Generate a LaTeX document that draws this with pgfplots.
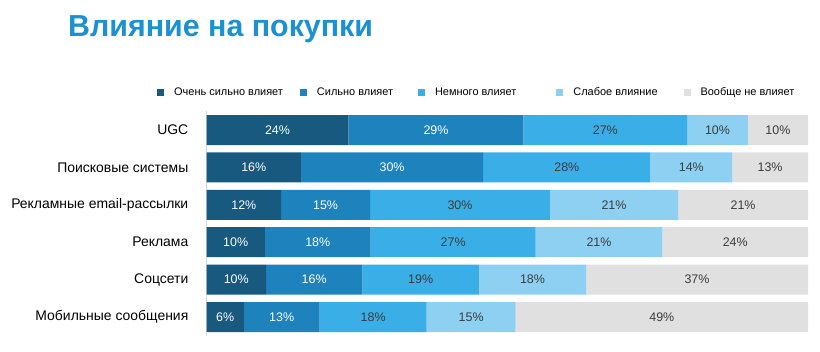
\documentclass[border=0pt]{standalone}
\usepackage{fontspec}
\setmainfont{Liberation Sans}
\usepackage{pgfplots}
\pgfplotsset{compat=1.18}
\usepackage{pgfplotstable}
\definecolor{cA}{RGB}{23,89,127}
\definecolor{cB}{RGB}{30,130,189}
\definecolor{cC}{RGB}{58,174,230}
\definecolor{cD}{RGB}{141,208,242}
\definecolor{cE}{RGB}{224,224,224}
\definecolor{titleblue}{RGB}{28,145,210}
\definecolor{lbldark}{RGB}{60,60,60}
\pgfplotstableread{
idx a b c d e la lb lc ld le
0 23.6 29.1 27.2 10.1 10.0 24 29 27 10 10
1 15.7 30.3 27.8 13.6 12.6 16 30 28 14 13
2 12.4 14.8 29.9 21.3 21.6 12 15 30 21 21
3 9.7 17.6 27.4 21.1 24.2 10 18 27 21 24
4 9.9 16.0 19.4 17.8 36.9 10 16 19 18 37
5 6.2 12.6 17.8 14.8 48.6 6 13 18 15 49
}\data
\begin{document}
\begin{tikzpicture}
\useasboundingbox (0,0) rectangle (820bp,352bp);
\node[anchor=base west, inner sep=0pt, text=titleblue, font=\fontsize{30.5}{34}\selectfont\bfseries] at (68bp,315bp) {Влияние на покупки};
\begin{axis}[
  at={(206.5bp,16.3bp)}, anchor=south west,
  scale only axis, width=601.5bp, height=224.4bp,
  xbar stacked, bar width=30bp,
  xmin=0, xmax=100, ymin=-0.5, ymax=5.5, y dir=reverse,
  axis x line=none, axis y line*=left,
  y axis line style={draw=black!15, line width=1pt},
  ytick={0,1,2,3,4,5},
  yticklabels={UGC, Поисковые системы, Рекламные email-рассылки, Реклама, Соцсети, Мобильные сообщения},
  major tick length=0pt,
  yticklabel style={font=\fontsize{14}{16}\selectfont, anchor=east, inner sep=0pt, xshift=-18bp},
  /pgf/number format/assume math mode=true,
  point meta=explicit,
  nodes near coords={\pgfmathprintnumber{\pgfplotspointmeta}\%},
  every node near coord/.append style={anchor=center, font=\fontsize{12.5}{14}\selectfont},
  legend columns=5,
  legend style={at={(-0.0823,1.086)}, anchor=west, draw=none, fill=none, inner sep=0pt,
    font=\fontsize{11}{13}\selectfont, /tikz/every odd column/.append style={column sep=8bp}},
  legend image code/.code={\fill[#1] (0bp,-3.5bp) rectangle (7bp,3.5bp);},
]
\addplot[fill=cA, draw=none, nodes near coords style={text=white}] table[x=a, y=idx, meta=la] {\data};
\addlegendentry{Очень сильно влияет\hspace*{15bp}}
\addplot[fill=cB, draw=none, nodes near coords style={text=white}] table[x=b, y=idx, meta=lb] {\data};
\addlegendentry{Сильно влияет\hspace*{23bp}}
\addplot[fill=cC, draw=none, nodes near coords style={text=lbldark}] table[x=c, y=idx, meta=lc] {\data};
\addlegendentry{Немного влияет\hspace*{38bp}}
\addplot[fill=cD, draw=none, nodes near coords style={text=lbldark}] table[x=d, y=idx, meta=ld] {\data};
\addlegendentry{Слабое влияние\hspace*{24bp}}
\addplot[fill=cE, draw=none, nodes near coords style={text=lbldark}] table[x=e, y=idx, meta=le] {\data};
\addlegendentry{Вообще не влияет}
\end{axis}
\end{tikzpicture}
\end{document}
